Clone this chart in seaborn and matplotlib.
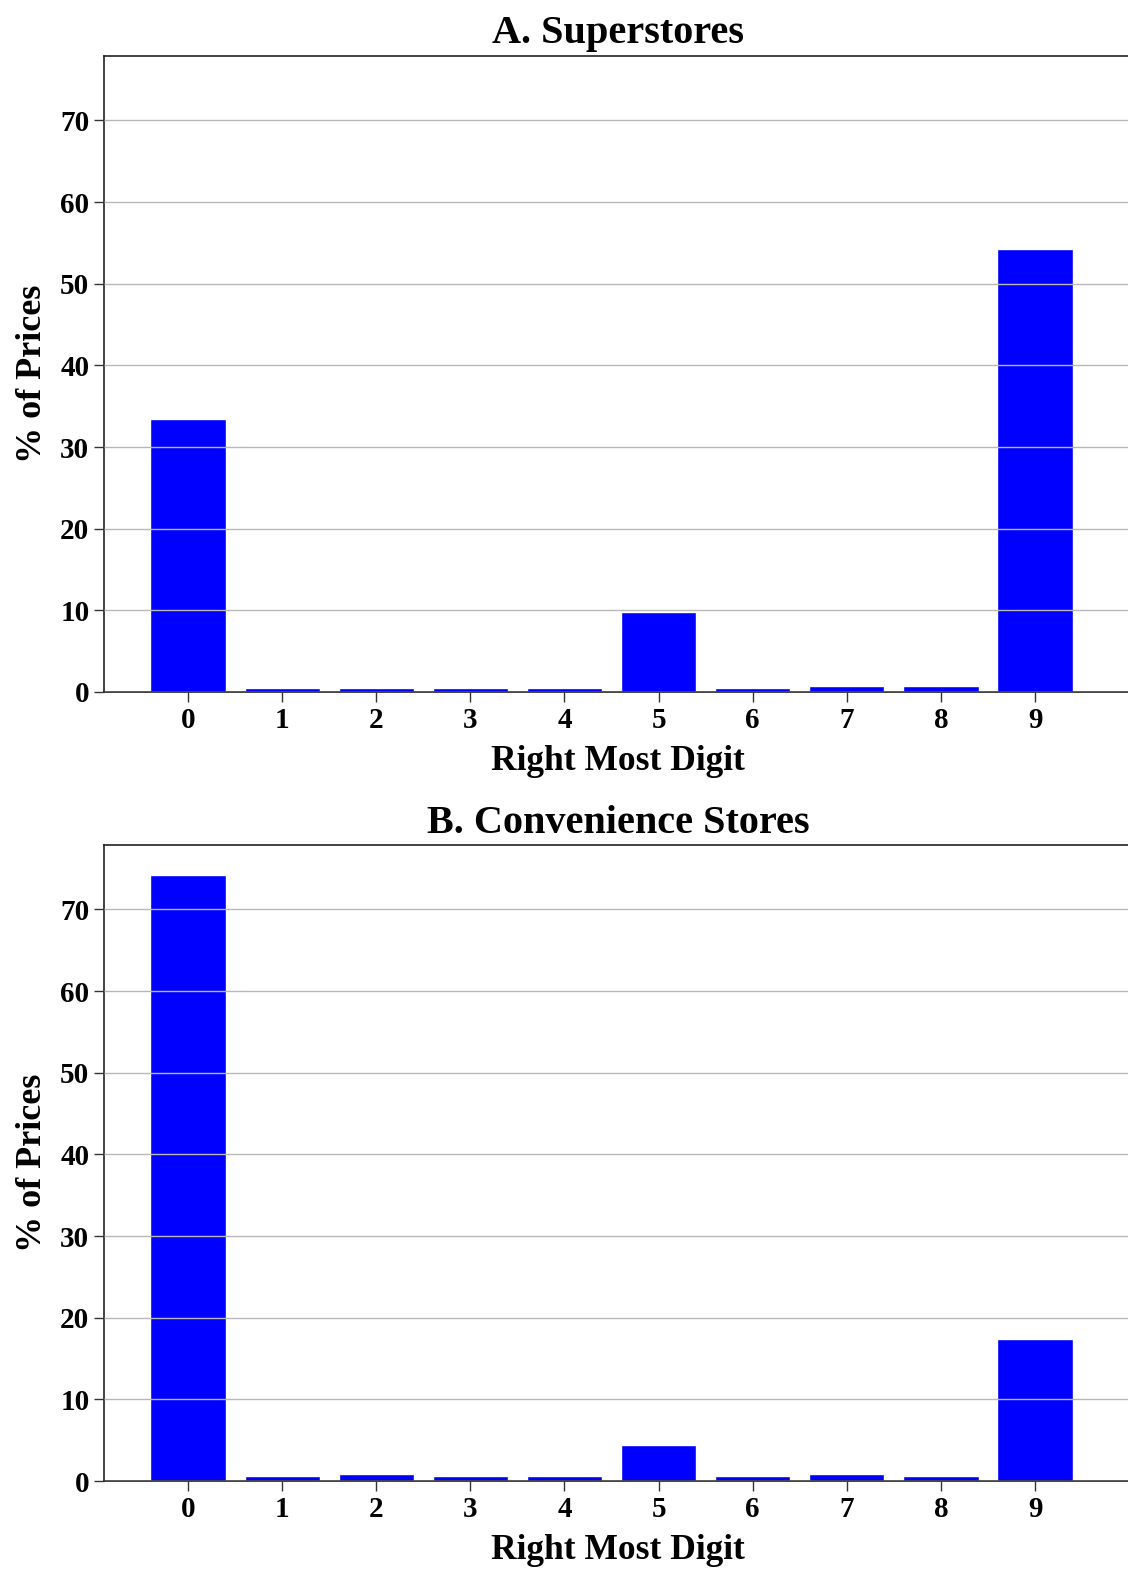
import pandas as pd
import seaborn as sns
import matplotlib.pyplot as plt

# dados (% de preços por último dígito)
digitos = ['0', '1', '2', '3', '4', '5', '6', '7', '8', '9']
superstores = [33.4, 0.5, 0.5, 0.5, 0.5, 9.8, 0.5, 0.7, 0.7, 54.2]
convenience = [74.2, 0.6, 0.9, 0.6, 0.6, 4.4, 0.6, 0.9, 0.6, 17.4]
titulos = ['A. Superstores', 'B. Convenience Stores']

sns.set_style('white')
plt.rcParams['font.family'] = ['Liberation Serif', 'DejaVu Serif']
plt.rcParams['font.weight'] = 'bold'
plt.rcParams['text.color'] = 'black'
plt.rcParams['axes.labelcolor'] = 'black'
plt.rcParams['xtick.color'] = 'black'
plt.rcParams['ytick.color'] = 'black'

W, H = 1128, 1591
fig = plt.figure(figsize=(W / 100, H / 100), dpi=100)

# posições dos eixos em pixels (esquerda, base)
posicoes = [(104, 692), (104, 1481)]

for serie, titulo, (px, py) in zip([superstores, convenience], titulos, posicoes):
    ax = fig.add_axes([px / W, 1 - py / H, (1132 - px) / W, 636 / H])
    df = pd.DataFrame({'digito': digitos, 'pct': serie})
    sns.barplot(data=df, x='digito', y='pct', color='blue', saturation=1,
                width=0.8, ax=ax)
    ax.set_xlim(-0.893, 10.03)
    ax.set_ylim(0, 77.9)
    ax.set_yticks(range(0, 71, 10))
    ax.set_axisbelow(False)
    ax.yaxis.grid(True, color='#b8b8b8', lw=1)
    for s in ax.spines.values():
        s.set_color('#222222')
        s.set_linewidth(1.2)
    ax.tick_params(axis='both', which='major', labelsize=21, length=7,
                   width=1, color='#333333', left=True, bottom=True)
    for lbl in ax.get_xticklabels() + ax.get_yticklabels():
        lbl.set_fontweight('bold')
    ax.set_title(titulo, fontsize=29, fontweight='bold', pad=9)
    ax.set_xlabel('Right Most Digit', fontsize=25.5, fontweight='bold', labelpad=8)
    ax.set_ylabel('% of Prices', fontsize=26, fontweight='bold', labelpad=8)

plt.savefig('out.png', dpi=100)
